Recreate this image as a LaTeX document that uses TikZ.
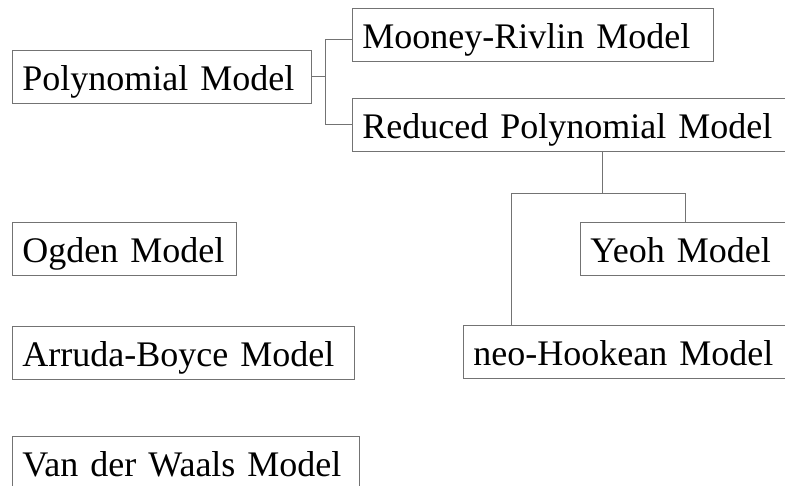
\documentclass[tikz,border=0pt]{standalone}
\usepackage{fontspec}
\setmainfont{Liberation Serif}
\usetikzlibrary {positioning}

\begin{document}
\begin{tikzpicture}[x=1pt,y=-1pt,
      every node/.style={font=\fontsize{36}{40}\selectfont},
      model/.style={draw=black!55,line width=0.9pt,anchor=north west,minimum height=53pt,
        inner xsep=10pt,align=left,text height=30pt,text depth=3pt},
      link/.style={draw=black!55,line width=0.9pt}]
      \clip (0,0) rectangle (785,486);
      \useasboundingbox (0,0) rectangle (785,486);
      \node[model, text width=279pt] (poly)    at (12,50)  {Polynomial Model};
      \node[model, text width=341pt] (mooney)  at (352,8)  {Mooney-Rivlin Model};
      \node[model, text width=430pt] (reduced) at (352,98) {Reduced Polynomial Model};
      \node[model, text width=195pt] (yeoh)    at (580,222) {Yeoh Model};
      \node[model, text width=310pt] (neo)     at (463,325) {neo-Hookean Model};
      \node[model, text width=204pt] (ogden)   at (12,222) {Ogden Model};
      \node[model, text width=322pt] (arruda)  at (12,326) {Arruda-Boyce Model};
      \node[model, text width=327pt] (waals)   at (12,436) {Van der Waals Model};
      % polynomial branches
      \coordinate (psplit) at (325,77);
      \path[link] (poly.east) -- (psplit |- poly.east) |- ([yshift=-5pt]mooney.west);
      \path[link] (psplit |- poly.east) |- (reduced.west);
      % reduced polynomial branches
      \coordinate (rsplit) at (602,193);
      \path[link] (rsplit |- reduced.south) -- (rsplit);
      \path[link] (rsplit) -| ([xshift=105pt]yeoh.north west);
      \path[link] (rsplit) -| ([xshift=48pt]neo.north west);
    \end{tikzpicture}
\end{document}
